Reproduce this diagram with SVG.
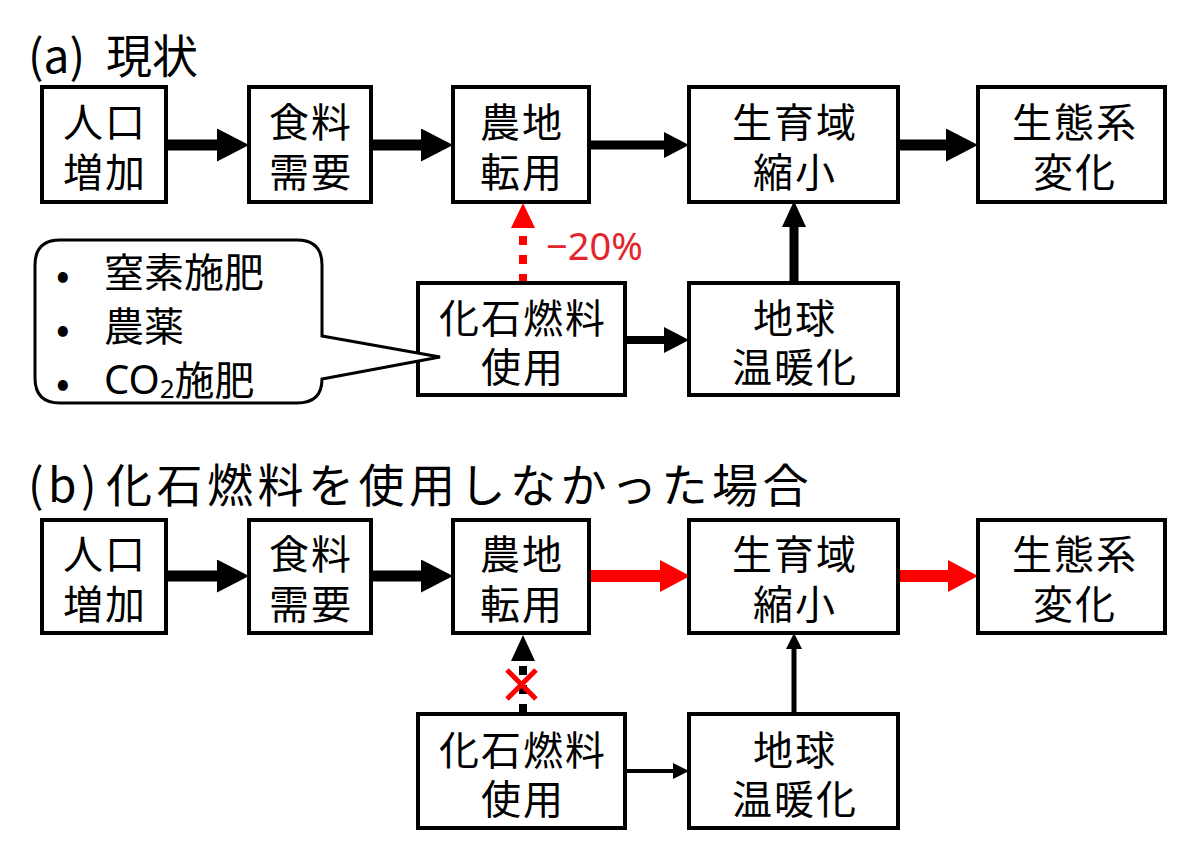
<svg xmlns="http://www.w3.org/2000/svg" width="1182" height="846" viewBox="0 0 1182 846">
<style>
.box{fill:#fff;stroke:#000;stroke-width:4}
.t{font-family:"Noto Sans CJK JP","Noto Sans",sans-serif;font-size:40px;fill:#000;text-anchor:middle;dominant-baseline:central;letter-spacing:2px}
.title{font-family:"Noto Sans CJK JP","Noto Sans",sans-serif;font-size:46px;fill:#000;dominant-baseline:central}
.cl{font-family:"Noto Sans CJK JP","Noto Sans",sans-serif;font-size:40px;fill:#000;dominant-baseline:central}
.k{stroke:#000;fill:none}
.r{stroke:#ff0000;fill:none}
</style>
<defs>
<marker id="hL" markerUnits="userSpaceOnUse" markerWidth="32" markerHeight="33" refX="0" refY="16.5" orient="auto"><path d="M0,0 L32,16.5 L0,33 Z" fill="#000"/></marker>
<marker id="hM" markerUnits="userSpaceOnUse" markerWidth="25" markerHeight="26" refX="0" refY="13" orient="auto"><path d="M0,0 L25,13 L0,26 Z" fill="#000"/></marker>
<marker id="hR" markerUnits="userSpaceOnUse" markerWidth="30" markerHeight="32" refX="0" refY="16" orient="auto"><path d="M0,0 L30,16 L0,32 Z" fill="#ff0000"/></marker>
<marker id="hRd" markerUnits="userSpaceOnUse" markerWidth="25" markerHeight="24" refX="0" refY="12" orient="auto"><path d="M0,0 L25,12 L0,24 Z" fill="#ff0000"/></marker>
<marker id="hKd" markerUnits="userSpaceOnUse" markerWidth="26" markerHeight="24" refX="0" refY="12" orient="auto"><path d="M0,0 L26,12 L0,24 Z" fill="#000"/></marker>
<marker id="hS" markerUnits="userSpaceOnUse" markerWidth="16" markerHeight="16" refX="0" refY="8" orient="auto"><path d="M0,0 L16,8 L0,16 Z" fill="#000"/></marker>
</defs>
<rect width="1182" height="846" fill="#fff"/>

<text class="title" x="28" y="53">(a)<tspan x="106">現状</tspan></text>
<text class="title" x="28" y="482" style="letter-spacing:4.5px">(b)<tspan x="106">化石燃料を使用しなかった場合</tspan></text>

<g id="connectors">
  <line class="k" x1="166" y1="145" x2="217" y2="145" stroke-width="11" marker-end="url(#hL)"/>
  <line class="k" x1="371" y1="145" x2="421" y2="145" stroke-width="11" marker-end="url(#hL)"/>
  <line class="k" x1="589" y1="145" x2="664" y2="145" stroke-width="9" marker-end="url(#hM)"/>
  <line class="k" x1="898" y1="145" x2="946" y2="145" stroke-width="11" marker-end="url(#hL)"/>
  <line class="k" x1="625" y1="340" x2="664" y2="340" stroke-width="8" marker-end="url(#hM)"/>
  <line class="k" x1="794" y1="283" x2="794" y2="227" stroke-width="9" marker-end="url(#hKd)"/>
  <line class="r" x1="523" y1="283" x2="523" y2="228" stroke-width="8" stroke-dasharray="9 10" marker-end="url(#hRd)"/>
  <line class="k" x1="166" y1="576" x2="217" y2="576" stroke-width="11" marker-end="url(#hL)"/>
  <line class="k" x1="371" y1="576" x2="421" y2="576" stroke-width="11" marker-end="url(#hL)"/>
  <line class="r" x1="589" y1="576" x2="660" y2="576" stroke-width="12" marker-end="url(#hR)"/>
  <line class="r" x1="898" y1="576" x2="948" y2="576" stroke-width="12" marker-end="url(#hR)"/>
  <line class="k" x1="625" y1="771" x2="673" y2="771" stroke-width="4" marker-end="url(#hS)"/>
  <line class="k" x1="794" y1="714" x2="794" y2="649" stroke-width="5" marker-end="url(#hS)"/>
  <line class="k" x1="523" y1="713" x2="523" y2="661" stroke-width="8" stroke-dasharray="9 10" marker-end="url(#hKd)"/>
  <path class="r" d="M507,670 L536,699 M536,670 L507,699" stroke-width="5"/>
</g>

<text x="546" y="245" font-family="'Noto Sans','Noto Sans CJK JP',sans-serif" font-size="38" fill="#e3262b" dominant-baseline="central">−20%</text>

<g id="a-n1"><rect class="box" x="42" y="87" width="124" height="115"/><text class="t" x="105" y="120">人口<tspan x="105" dy="50">増加</tspan></text></g>
<g id="a-n2"><rect class="box" x="249" y="87" width="122" height="115"/><text class="t" x="311" y="120">食料<tspan x="311" dy="50">需要</tspan></text></g>
<g id="a-n3"><rect class="box" x="453" y="87" width="136" height="115"/><text class="t" x="522" y="120">農地<tspan x="522" dy="50">転用</tspan></text></g>
<g id="a-n4"><rect class="box" x="689" y="87" width="209" height="115"/><text class="t" x="795" y="120">生育域<tspan x="795" dy="50">縮小</tspan></text></g>
<g id="a-n5"><rect class="box" x="978" y="87" width="187" height="115"/><text class="t" x="1075" y="120">生態系<tspan x="1075" dy="50">変化</tspan></text></g>
<g id="a-n6"><rect class="box" x="418" y="283" width="207" height="112"/><text class="t" x="523" y="316">化石燃料<tspan x="523" dy="49">使用</tspan></text></g>
<g id="a-n7"><rect class="box" x="689" y="283" width="209" height="112"/><text class="t" x="795" y="316">地球<tspan x="795" dy="49">温暖化</tspan></text></g>

<g id="a-callout">
  <path d="M60,240 H297 Q322,240 322,265 V336 L440,357 L322,379 Q322,403 297,403 H60 Q35,403 35,378 V265 Q35,240 60,240 Z" fill="#fff" stroke="#000" stroke-width="3"/>
  <text class="cl" x="56" y="272" font-size="30">•<tspan x="56" dy="54">•</tspan><tspan x="56" dy="54">•</tspan></text>
  <text class="cl" x="104" y="270">窒素施肥<tspan x="104" dy="54">農薬</tspan><tspan x="104" dy="54" font-family="'Noto Sans',sans-serif">CO</tspan><tspan font-family="'Noto Sans',sans-serif" font-size="26" dy="10">2</tspan><tspan dy="-10">施肥</tspan></text>
</g>

<g id="b-n1"><rect class="box" x="42" y="520" width="124" height="113"/><text class="t" x="105" y="552">人口<tspan x="105" dy="50">増加</tspan></text></g>
<g id="b-n2"><rect class="box" x="249" y="520" width="122" height="113"/><text class="t" x="311" y="552">食料<tspan x="311" dy="50">需要</tspan></text></g>
<g id="b-n3"><rect class="box" x="453" y="520" width="136" height="113"/><text class="t" x="522" y="552">農地<tspan x="522" dy="50">転用</tspan></text></g>
<g id="b-n4"><rect class="box" x="689" y="520" width="209" height="113"/><text class="t" x="795" y="552">生育域<tspan x="795" dy="50">縮小</tspan></text></g>
<g id="b-n5"><rect class="box" x="978" y="520" width="187" height="113"/><text class="t" x="1075" y="552">生態系<tspan x="1075" dy="50">変化</tspan></text></g>
<g id="b-n6"><rect class="box" x="418" y="714" width="207" height="114"/><text class="t" x="523" y="748">化石燃料<tspan x="523" dy="49">使用</tspan></text></g>
<g id="b-n7"><rect class="box" x="689" y="714" width="209" height="114"/><text class="t" x="795" y="748">地球<tspan x="795" dy="49">温暖化</tspan></text></g>
</svg>
